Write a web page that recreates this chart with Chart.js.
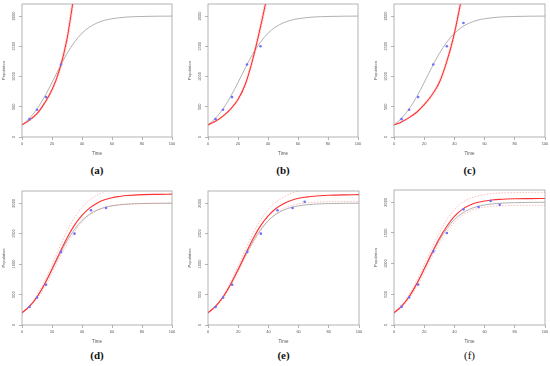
<!DOCTYPE html>
<html>
<head>
<meta charset="utf-8">
<script src="https://cdn.jsdelivr.net/npm/chart.js@4.4.1/dist/chart.umd.min.js"></script>
<style>
  html, body { margin: 0; padding: 0; background: #fff; }
  #figure { position: relative; width: 550px; height: 366px; overflow: hidden; }
  #figure canvas { position: absolute; }
  .sub {
    position: absolute;
    width: 40px;
    margin-left: -20px;
    text-align: center;
    line-height: 12px;
    font: bold 11px "Liberation Serif", serif;
    color: #111;
  }
</style>
</head>
<body>
<div id="figure"></div>
<script>
"use strict";

const xTicks = [0, 20, 40, 60, 80, 100];
const yTicks = [0, 500, 1000, 1500, 2000];

// observed population (blue points)
const obsTime = [5, 10, 16, 26, 35, 46, 56, 64, 70];
const obsPop = [295, 450, 660, 1200, 1500, 1885, 1922, 2022, 1958];

// underlying logistic curve (grey)
const trueTime = [0, 5, 10, 15, 20, 25, 30, 35, 40, 45, 50, 55, 60, 65, 70, 75, 80, 90, 100];
const truePop = [200, 310, 464, 665, 902, 1150, 1381, 1570, 1717, 1818, 1886, 1930, 1956, 1973, 1984, 1990, 1994, 1998, 2000];

// fitted curves (red) with their bounds (pink)
const timeA = [0, 5, 10, 15, 20, 25, 30, 35];
const fitA = [200, 280, 385, 560, 780, 1110, 1620, 2400];
const upperA = [205, 290, 400, 580, 810, 1160, 1700, 2530];
const lowerA = [195, 270, 370, 540, 750, 1060, 1540, 2280];

const timeB = [0, 5, 10, 15, 20, 25, 30, 35, 40];
const fitB = [200, 260, 345, 460, 620, 880, 1300, 1820, 2400];
const upperB = [205, 268, 356, 475, 642, 912, 1350, 1890, 2500];
const lowerB = [195, 252, 334, 445, 598, 848, 1250, 1750, 2300];

const timeC = [0, 5, 10, 15, 20, 25, 30, 35, 40, 45];
const fitC = [200, 250, 320, 410, 535, 690, 900, 1250, 1715, 2330];
const upperC = [205, 258, 330, 424, 553, 714, 932, 1295, 1775, 2410];
const lowerC = [195, 242, 310, 396, 517, 666, 868, 1205, 1655, 2250];

const fitTime = [0, 5, 10, 15, 20, 25, 30, 35, 40, 45, 50, 55, 60, 65, 70, 80, 90, 100];
const fitD = [200, 305, 460, 670, 920, 1180, 1430, 1640, 1800, 1920, 2000, 2055, 2090, 2110, 2125, 2140, 2145, 2148];
const upperD = [210, 320, 490, 720, 990, 1270, 1540, 1760, 1930, 2050, 2130, 2190, 2230, 2260, 2280, 2305, 2315, 2320];
const lowerD = [195, 290, 430, 620, 850, 1100, 1330, 1530, 1690, 1800, 1880, 1930, 1960, 1975, 1985, 1995, 1998, 2000];

const fitE = [200, 305, 460, 668, 915, 1175, 1425, 1635, 1795, 1912, 1990, 2045, 2080, 2100, 2115, 2130, 2137, 2140];
const upperE = [210, 318, 485, 710, 975, 1250, 1510, 1730, 1900, 2020, 2100, 2160, 2200, 2225, 2240, 2255, 2260, 2262];
const lowerE = [195, 295, 440, 640, 870, 1120, 1350, 1550, 1710, 1830, 1910, 1960, 1990, 2005, 2015, 2025, 2028, 2030];

const fitF = [200, 305, 460, 670, 915, 1170, 1410, 1610, 1770, 1880, 1950, 1995, 2020, 2038, 2048, 2057, 2060, 2062];
const upperF = [215, 330, 500, 720, 980, 1250, 1500, 1720, 1880, 1990, 2060, 2100, 2125, 2140, 2150, 2158, 2160, 2162];
const lowerF = [190, 285, 425, 620, 855, 1100, 1330, 1520, 1670, 1780, 1850, 1895, 1920, 1935, 1942, 1948, 1950, 1950];

const panels = [
  { label: "(a)", nObs: 4, time: timeA, fit: fitA, upper: upperA, lower: lowerA },
  { label: "(b)", nObs: 5, time: timeB, fit: fitB, upper: upperB, lower: lowerB },
  { label: "(c)", nObs: 6, time: timeC, fit: fitC, upper: upperC, lower: lowerC },
  { label: "(d)", nObs: 7, time: fitTime, fit: fitD, upper: upperD, lower: lowerD },
  { label: "(e)", nObs: 8, time: fitTime, fit: fitE, upper: upperE, lower: lowerE },
  { label: "(f)", nObs: 9, time: fitTime, fit: fitF, upper: upperF, lower: lowerF, light: true }
];

// page geometry of each panel: canvas origin + plot box [left, right, top, bottom]
const layouts = [
  { left: 0, top: 0, width: 183, box: [22, 172, 2, 137] },
  { left: 183, top: 0, width: 183, box: [208, 358, 2, 137] },
  { left: 366, top: 0, width: 184, box: [394, 545, 2, 137] },
  { left: 0, top: 183, width: 183, box: [22, 172, 191, 325] },
  { left: 183, top: 183, width: 183, box: [208, 359, 191, 325] },
  { left: 366, top: 183, width: 184, box: [394, 545, 190, 325] }
];

const X_AXIS_HEIGHT = 23;
const figure = document.getElementById("figure");

const rFrame = {
  id: "rFrame",
  afterDraw(chart) {
    const { ctx, chartArea: area } = chart;
    const yScale = chart.scales.y;

    ctx.save();
    ctx.strokeStyle = "#a0a0a0";
    ctx.lineWidth = 0.8;
    ctx.strokeRect(area.left, area.top, area.right - area.left, area.bottom - area.top);

    ctx.fillStyle = "#555";
    ctx.font = '4px "Liberation Sans", Arial, sans-serif';
    ctx.textAlign = "center";
    ctx.textBaseline = "middle";

    yTicks.forEach((value) => {
      ctx.save();
      ctx.translate(area.left - 8, yScale.getPixelForValue(value));
      ctx.rotate(-Math.PI / 2);
      ctx.fillText(String(value), 0, 0);
      ctx.restore();
    });

    ctx.restore();
  }
};

panels.forEach((panel, i) => drawPanel(panel, layouts[i]));

function toPoints(xs, ys) {
  return xs.map((x, i) => ({ x, y: ys[i] }));
}

function drawPanel(panel, layout) {
  const [boxLeft, boxRight, boxTop, boxBottom] = layout.box;
  const height = boxBottom - layout.top + X_AXIS_HEIGHT;
  const yWidth = boxLeft - layout.left;

  const canvas = document.createElement("canvas");
  canvas.width = layout.width;
  canvas.height = height;
  canvas.style.left = layout.left + "px";
  canvas.style.top = layout.top + "px";
  canvas.style.width = layout.width + "px";
  canvas.style.height = height + "px";
  figure.appendChild(canvas);

  const curve = {
    showLine: true,
    pointRadius: 0,
    pointHoverRadius: 0,
    cubicInterpolationMode: "monotone",
    fill: false
  };

  new Chart(canvas, {
    type: "scatter",
    data: {
      datasets: [
        {
          data: toPoints(obsTime.slice(0, panel.nObs), obsPop),
          pointRadius: 1.3,
          pointBackgroundColor: "#7070ff",
          pointBorderWidth: 0,
          showLine: false
        },
        { ...curve, data: toPoints(panel.time, panel.fit), borderColor: "#ff3030", borderWidth: 1.1 },
        { ...curve, data: toPoints(panel.time, panel.upper), borderColor: "rgba(255,130,130,0.65)", borderWidth: 0.8, borderDash: [1.5, 1.5] },
        { ...curve, data: toPoints(panel.time, panel.lower), borderColor: "rgba(255,130,130,0.65)", borderWidth: 0.8, borderDash: [1.5, 1.5] },
        { ...curve, data: toPoints(trueTime, truePop), borderColor: "#a8a8a8", borderWidth: 0.9 }
      ]
    },
    options: {
      responsive: false,
      animation: false,
      devicePixelRatio: 1,
      events: [],
      layout: {
        padding: {
          left: 0,
          right: layout.left + layout.width - boxRight,
          top: boxTop - layout.top,
          bottom: 0
        }
      },
      plugins: {
        legend: { display: false },
        tooltip: { enabled: false }
      },
      scales: {
        x: {
          type: "linear",
          min: 0,
          max: 100,
          afterBuildTicks: (scale) => { scale.ticks = xTicks.map((value) => ({ value })); },
          afterFit: (scale) => { scale.height = X_AXIS_HEIGHT; },
          grid: { drawOnChartArea: false, drawTicks: true, tickLength: 3, color: "#a0a0a0", lineWidth: 0.8 },
          border: { display: false },
          ticks: {
            color: "#555",
            padding: 1.5,
            maxRotation: 0,
            font: { family: "Liberation Sans", size: 4 }
          },
          title: {
            display: true,
            text: "Time",
            color: "#555",
            font: { family: "Liberation Sans", size: 4.5 },
            padding: { top: 0, bottom: 4 }
          }
        },
        y: {
          type: "linear",
          min: 0,
          max: 2200,
          afterBuildTicks: (scale) => { scale.ticks = yTicks.map((value) => ({ value })); },
          afterFit: (scale) => { scale.width = yWidth; },
          grid: { drawOnChartArea: false, drawTicks: true, tickLength: 3, color: "#a0a0a0", lineWidth: 0.8 },
          border: { display: false },
          ticks: { display: false },
          title: {
            display: true,
            text: "Population",
            color: "#555",
            font: { family: "Liberation Sans", size: 4 },
            padding: { top: Math.max(0, yWidth - 20.4), bottom: 0 }
          }
        }
      }
    },
    plugins: [rFrame]
  });

  const sub = document.createElement("div");
  sub.className = "sub";
  sub.textContent = panel.label;
  sub.style.left = (boxLeft + boxRight) / 2 + "px";
  sub.style.top = (layout.top === 0 ? 170 : 355) - 6 + "px";
  if (panel.light) sub.style.fontWeight = "normal";
  figure.appendChild(sub);
}
</script>
</body>
</html>
